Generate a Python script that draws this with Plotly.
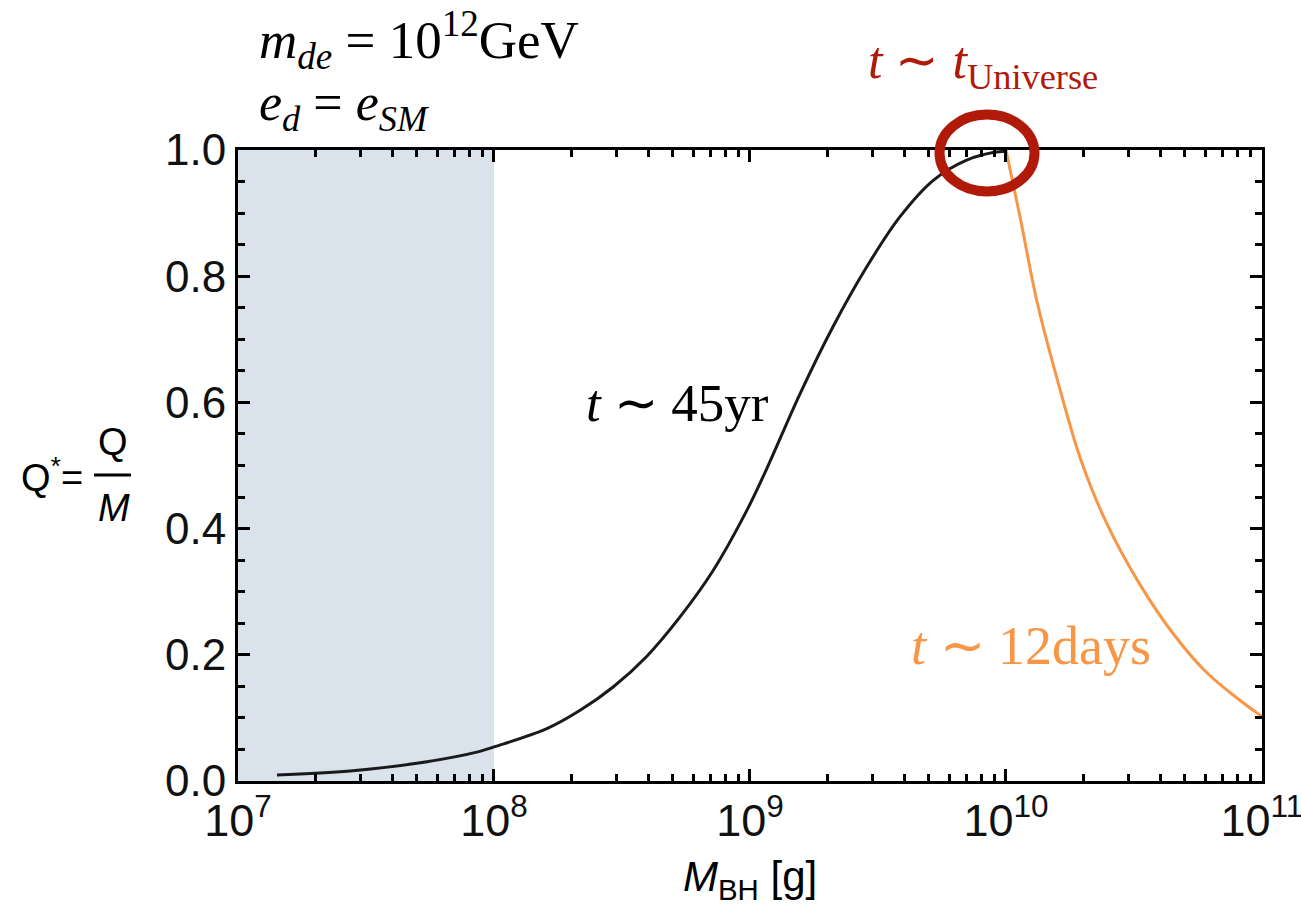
import plotly.graph_objects as go

# Q* = Q/M versus black-hole mass, early branch (black) and late branch (orange)
mass_early = [1.42e7, 2.74e7, 4.99e7, 8.81e7, 1.0e8, 1.61e8, 2.17e8, 2.92e8, 3.94e8,
              5.33e8, 7.19e8, 9.70e8, 1.16e9, 1.57e9, 2.11e9, 2.86e9, 3.85e9, 5.20e9,
              7.02e9, 8.9e9, 1.0e10]
q_early = [0.0095, 0.016, 0.028, 0.047, 0.054, 0.083, 0.112, 0.149, 0.197,
           0.260, 0.334, 0.428, 0.494, 0.614, 0.720, 0.815, 0.894, 0.952,
           0.984, 0.996, 0.998]

mass_late = [1.0e10, 1.135e10, 1.32e10, 1.58e10, 1.95e10, 2.47e10, 3.33e10, 4.51e10,
             6.08e10, 9.55e10, 1.0e11]
q_late = [1.0, 0.894, 0.761, 0.639, 0.512, 0.409, 0.312, 0.233, 0.172, 0.108, 0.103]

# excluded mass band
band_mass = [1e7, 1e8]
band_q = [0.0, 1.0]

BLACK = "#1a1a1a"
ORANGE = "#f79646"
RED = "#b11a08"
BAND = "#dae3ec"
SANS = "Liberation Sans"
SERIF = "Liberation Serif"

X_RANGE = [7, 11.0002]
Y_RANGE = [0, 1]

fig = go.Figure()

fig.add_trace(go.Scatter(x=mass_early, y=q_early, mode="lines",
                         line=dict(color=BLACK, width=3, shape="spline", smoothing=1.0)))
fig.add_trace(go.Scatter(x=mass_late, y=q_late, mode="lines",
                         line=dict(color=ORANGE, width=3, shape="spline", smoothing=1.0)))
# empty-looking trace that keeps the overlay tick axes alive
fig.add_trace(go.Scatter(x=band_mass, y=band_q, xaxis="x2", yaxis="y2", mode="markers",
                         marker=dict(opacity=0, size=1), hoverinfo="skip"))

tick_style = dict(ticks="inside", tickwidth=3, ticklen=12, tickcolor="black",
                  showgrid=False, zeroline=False, layer="above traces")
x_minor = dict(ticks="inside", ticklen=7, tickwidth=2.5, tickcolor="black",
               dtick="D1", showgrid=False)
y_minor = dict(ticks="inside", ticklen=7, tickwidth=2.5, tickcolor="black",
               dtick=0.05, showgrid=False)

fig.update_layout(
    xaxis=dict(type="log", range=X_RANGE, tick0=0, dtick=1, exponentformat="power",
               showline=True, linewidth=3, linecolor="black", mirror="allticks",
               ticklabeloverflow="allow", automargin=False,
               tickfont=dict(family=SANS, size=36, color="#111"),
               minor=x_minor, **tick_style),
    yaxis=dict(range=Y_RANGE, tick0=0, dtick=0.2, tickformat=".1f",
               showline=True, linewidth=3, linecolor="black", mirror="allticks",
               ticklabeloverflow="allow", automargin=False,
               tickfont=dict(family=SANS, size=44, color="#111"),
               minor=y_minor, **tick_style),
    # overlay axes repeat the tick marks on the bottom/left edges above the band
    xaxis2=dict(type="log", range=X_RANGE, tick0=0, dtick=1, overlaying="x", anchor="y2",
                side="bottom", showticklabels=False, showline=False, automargin=False,
                minor=x_minor, **tick_style),
    yaxis2=dict(range=Y_RANGE, tick0=0, dtick=0.2, overlaying="y", anchor="x2",
                side="left", showticklabels=False, showline=False, automargin=False,
                minor=y_minor, **tick_style),
)

L, R, T, B = 238, 39, 150, 127
W, H = 1301, 908
PW, PH = W - L - R, H - T - B


def px(x):
    return (x - L) / PW


def py(y):
    return (H - B - y) / PH


ann = []


def text(x, y, s, size, color="black", family=SERIF, xanchor="left", yanchor="middle"):
    ann.append(dict(x=px(x), y=py(y), xref="paper", yref="paper", text=s, showarrow=False,
                    xanchor=xanchor, yanchor=yanchor,
                    font=dict(family=family, size=size, color=color)))


text(257, 40, "<i>m</i><sub><i>de</i></sub> = 10<sup>12</sup>GeV", 53)
text(257, 106, "<i>e</i><sub><i>d</i></sub> = <i>e</i><sub><i>SM</i></sub>", 52)
text(866, 64, "<i>t</i> ∼ <i>t</i><sub>Universe</sub>", 52, color=RED)
text(584, 403, "<i>t</i> ∼ 45yr", 53)
text(909, 646, "<i>t</i> ∼ 12days", 54, color=ORANGE)

# axis titles
text(750, 879, "<i>M</i><sub>BH</sub> [g]", 42, family=SANS, xanchor="center")
text(52, 475, "Q<sup>*</sup>=", 38, family=SANS, xanchor="center")
text(113, 442, "Q", 38, family=SANS, xanchor="center")
text(114, 508, "<i>M</i>", 38, family=SANS, xanchor="center")

fig.update_layout(
    width=W, height=H, margin=dict(l=L, r=R, t=T, b=B),
    plot_bgcolor="white", paper_bgcolor="white", showlegend=False,
    annotations=ann,
    shapes=[
        # shaded mass band, under the traces
        dict(type="rect", xref="x", yref="y", layer="between",
             x0=band_mass[0], x1=band_mass[1], y0=band_q[0], y1=band_q[1],
             fillcolor=BAND, line=dict(width=0)),
        dict(type="line", xref="paper", yref="paper", x0=px(94), x1=px(131),
             y0=py(475), y1=py(475), line=dict(color="black", width=3)),
        dict(type="circle", xref="paper", yref="paper",
             x0=px(987 - 47.5), x1=px(987 + 47.5), y0=py(153 + 38.5), y1=py(153 - 38.5),
             line=dict(color=RED, width=10)),
    ],
)

fig.write_html("out.html")
